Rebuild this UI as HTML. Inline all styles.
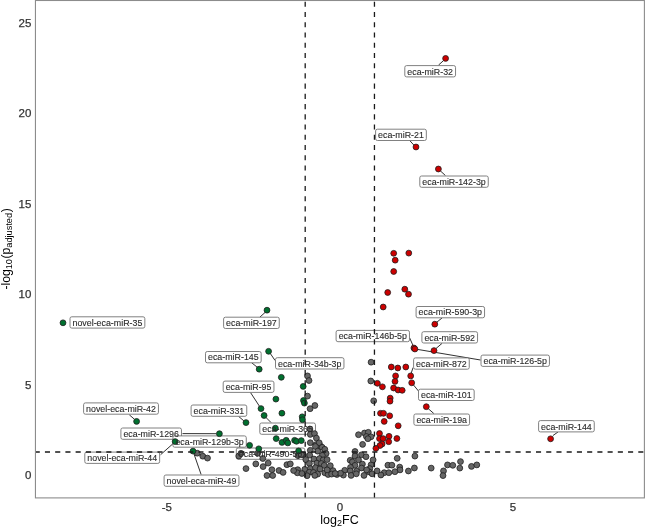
<!DOCTYPE html><html><head><meta charset="utf-8"><style>html,body{margin:0;padding:0;background:#fff;}svg{display:block;}text{font-family:"Liberation Sans",sans-serif;}svg{will-change:transform;}</style></head><body>
<svg width="645" height="527" viewBox="0 0 645 527">
<rect x="0" y="0" width="645" height="527" fill="#fff"/>
<g stroke="#1a1a1a" stroke-width="0.9" fill="none">
<line x1="438.5" y1="65.1" x2="443.4" y2="60.7"/>
<line x1="409.5" y1="140.3" x2="413.8" y2="145.0"/>
<line x1="445.4" y1="175.5" x2="440.5" y2="171.0"/>
<line x1="259.8" y1="317.2" x2="265.0" y2="312.5"/>
<line x1="442.0" y1="318.0" x2="436.8" y2="322.2"/>
<line x1="409.7" y1="338.0" x2="413.0" y2="345.5"/>
<line x1="442.0" y1="343.4" x2="436.0" y2="348.5"/>
<line x1="417.5" y1="349.4" x2="480.5" y2="360.0"/>
<line x1="413.1" y1="367.5" x2="411.2" y2="373.2"/>
<line x1="251.5" y1="362.6" x2="257.3" y2="367.3"/>
<line x1="275.1" y1="360.5" x2="270.3" y2="353.5"/>
<line x1="250.4" y1="392.4" x2="259.3" y2="406.0"/>
<line x1="418.8" y1="391.4" x2="413.5" y2="385.0"/>
<line x1="433.8" y1="413.5" x2="428.3" y2="408.7"/>
<line x1="238.6" y1="416.4" x2="243.8" y2="420.8"/>
<line x1="129.3" y1="414.8" x2="134.6" y2="419.4"/>
<line x1="182.5" y1="433.6" x2="216.4" y2="433.7"/>
<line x1="160.6" y1="454.7" x2="173.2" y2="443.5"/>
<line x1="271.0" y1="422.5" x2="266.0" y2="417.5"/>
<line x1="201.1" y1="474.5" x2="194.0" y2="454.0"/>
<line x1="558.1" y1="431.9" x2="552.9" y2="435.6"/>
</g>
<rect x="404.80" y="65.60" width="50.74" height="11.30" rx="1.8" fill="#fff" stroke="#737373" stroke-width="0.9"/>
<rect x="375.60" y="129.20" width="50.74" height="11.30" rx="1.8" fill="#fff" stroke="#737373" stroke-width="0.9"/>
<rect x="419.80" y="176.00" width="68.45" height="11.30" rx="1.8" fill="#fff" stroke="#737373" stroke-width="0.9"/>
<rect x="70.00" y="316.80" width="74.84" height="11.30" rx="1.8" fill="#fff" stroke="#737373" stroke-width="0.9"/>
<rect x="223.60" y="317.20" width="55.66" height="11.30" rx="1.8" fill="#fff" stroke="#737373" stroke-width="0.9"/>
<rect x="416.10" y="306.50" width="68.45" height="11.30" rx="1.8" fill="#fff" stroke="#737373" stroke-width="0.9"/>
<rect x="336.10" y="330.40" width="73.37" height="11.30" rx="1.8" fill="#fff" stroke="#737373" stroke-width="0.9"/>
<rect x="421.90" y="331.70" width="55.66" height="11.30" rx="1.8" fill="#fff" stroke="#737373" stroke-width="0.9"/>
<rect x="481.00" y="355.10" width="68.45" height="11.30" rx="1.8" fill="#fff" stroke="#737373" stroke-width="0.9"/>
<rect x="413.60" y="357.90" width="55.66" height="11.30" rx="1.8" fill="#fff" stroke="#737373" stroke-width="0.9"/>
<rect x="205.50" y="351.50" width="55.66" height="11.30" rx="1.8" fill="#fff" stroke="#737373" stroke-width="0.9"/>
<rect x="275.50" y="357.70" width="68.45" height="11.30" rx="1.8" fill="#fff" stroke="#737373" stroke-width="0.9"/>
<rect x="223.20" y="381.10" width="50.74" height="11.30" rx="1.8" fill="#fff" stroke="#737373" stroke-width="0.9"/>
<rect x="418.50" y="389.20" width="55.66" height="11.30" rx="1.8" fill="#fff" stroke="#737373" stroke-width="0.9"/>
<rect x="413.90" y="414.00" width="55.66" height="11.30" rx="1.8" fill="#fff" stroke="#737373" stroke-width="0.9"/>
<rect x="191.10" y="405.00" width="55.66" height="11.30" rx="1.8" fill="#fff" stroke="#737373" stroke-width="0.9"/>
<rect x="83.60" y="402.90" width="74.84" height="11.30" rx="1.8" fill="#fff" stroke="#737373" stroke-width="0.9"/>
<rect x="120.90" y="428.00" width="60.58" height="11.30" rx="1.8" fill="#fff" stroke="#737373" stroke-width="0.9"/>
<rect x="172.90" y="435.90" width="73.37" height="11.30" rx="1.8" fill="#fff" stroke="#737373" stroke-width="0.9"/>
<rect x="84.80" y="452.10" width="74.84" height="11.30" rx="1.8" fill="#fff" stroke="#737373" stroke-width="0.9"/>
<rect x="259.80" y="423.00" width="55.66" height="11.30" rx="1.8" fill="#fff" stroke="#737373" stroke-width="0.9"/>
<rect x="236.30" y="448.00" width="68.45" height="11.30" rx="1.8" fill="#fff" stroke="#737373" stroke-width="0.9"/>
<rect x="164.10" y="475.00" width="74.84" height="11.30" rx="1.8" fill="#fff" stroke="#737373" stroke-width="0.9"/>
<rect x="538.60" y="420.60" width="55.66" height="11.30" rx="1.8" fill="#fff" stroke="#737373" stroke-width="0.9"/>
<g fill="#666666" stroke="#1e1e1e" stroke-width="0.8">
<circle cx="431.2" cy="468.1" r="2.92"/>
<circle cx="443.5" cy="470.9" r="2.92"/>
<circle cx="443.0" cy="475.6" r="2.92"/>
<circle cx="447.5" cy="464.9" r="2.92"/>
<circle cx="452.8" cy="465.3" r="2.92"/>
<circle cx="460.5" cy="461.6" r="2.92"/>
<circle cx="459.8" cy="468.1" r="2.92"/>
<circle cx="471.5" cy="466.4" r="2.92"/>
<circle cx="476.8" cy="464.9" r="2.92"/>
<circle cx="397.2" cy="458.3" r="2.92"/>
<circle cx="414.9" cy="456.1" r="2.92"/>
<circle cx="387.9" cy="465.2" r="2.92"/>
<circle cx="391.9" cy="465.2" r="2.92"/>
<circle cx="399.7" cy="467.1" r="2.92"/>
<circle cx="400.0" cy="469.9" r="2.92"/>
<circle cx="384.2" cy="472.7" r="2.92"/>
<circle cx="388.8" cy="472.7" r="2.92"/>
<circle cx="394.9" cy="471.7" r="2.92"/>
<circle cx="380.9" cy="475.0" r="2.92"/>
<circle cx="408.4" cy="471.0" r="2.92"/>
<circle cx="414.4" cy="468.0" r="2.92"/>
<circle cx="358.5" cy="434.7" r="2.92"/>
<circle cx="364.5" cy="433.0" r="2.92"/>
<circle cx="368.3" cy="432.3" r="2.92"/>
<circle cx="366.4" cy="436.5" r="2.92"/>
<circle cx="371.0" cy="436.8" r="2.92"/>
<circle cx="367.9" cy="438.7" r="2.92"/>
<circle cx="362.6" cy="444.4" r="2.92"/>
<circle cx="373.7" cy="400.8" r="2.92"/>
<circle cx="371.1" cy="362.2" r="2.92"/>
<circle cx="370.8" cy="381.0" r="2.92"/>
<circle cx="377.1" cy="470.9" r="2.92"/>
<circle cx="309.9" cy="429.0" r="2.92"/>
<circle cx="310.3" cy="434.4" r="2.92"/>
<circle cx="314.5" cy="433.6" r="2.92"/>
<circle cx="316.4" cy="438.1" r="2.92"/>
<circle cx="310.3" cy="442.7" r="2.92"/>
<circle cx="316.0" cy="444.6" r="2.92"/>
<circle cx="320.6" cy="446.1" r="2.92"/>
<circle cx="319.2" cy="442.8" r="2.92"/>
<circle cx="297.9" cy="455.6" r="2.92"/>
<circle cx="315.4" cy="446.5" r="2.92"/>
<circle cx="322.2" cy="447.3" r="2.92"/>
<circle cx="286.9" cy="464.7" r="2.92"/>
<circle cx="297.7" cy="469.7" r="2.92"/>
<circle cx="297.3" cy="472.8" r="2.92"/>
<circle cx="262.8" cy="458.5" r="2.92"/>
<circle cx="255.8" cy="463.9" r="2.92"/>
<circle cx="268.2" cy="463.1" r="2.92"/>
<circle cx="263.1" cy="466.6" r="2.92"/>
<circle cx="271.9" cy="469.7" r="2.92"/>
<circle cx="267.0" cy="475.5" r="2.92"/>
<circle cx="272.7" cy="475.5" r="2.92"/>
<circle cx="279.0" cy="470.5" r="2.92"/>
<circle cx="283.1" cy="472.4" r="2.92"/>
<circle cx="290.3" cy="463.9" r="2.92"/>
<circle cx="293.6" cy="470.5" r="2.92"/>
<circle cx="257.6" cy="453.3" r="2.92"/>
<circle cx="238.8" cy="456.0" r="2.92"/>
<circle cx="241.0" cy="453.3" r="2.92"/>
<circle cx="246.0" cy="468.6" r="2.92"/>
<circle cx="197.3" cy="453.2" r="2.92"/>
<circle cx="202.8" cy="456.2" r="2.92"/>
<circle cx="207.5" cy="458.1" r="2.92"/>
<circle cx="307.5" cy="375.9" r="2.92"/>
<circle cx="309.0" cy="380.5" r="2.92"/>
<circle cx="307.5" cy="396.1" r="2.92"/>
<circle cx="310.1" cy="408.7" r="2.92"/>
<circle cx="314.9" cy="405.5" r="2.92"/>
<circle cx="355.0" cy="451.5" r="2.92"/>
<circle cx="355.0" cy="456.1" r="2.92"/>
<circle cx="361.5" cy="454.8" r="2.92"/>
<circle cx="366.0" cy="456.7" r="2.92"/>
<circle cx="350.2" cy="460.3" r="2.92"/>
<circle cx="352.4" cy="461.9" r="2.92"/>
<circle cx="358.5" cy="459.9" r="2.92"/>
<circle cx="355.0" cy="465.4" r="2.92"/>
<circle cx="362.4" cy="464.1" r="2.92"/>
<circle cx="361.5" cy="468.0" r="2.92"/>
<circle cx="350.5" cy="467.4" r="2.92"/>
<circle cx="344.7" cy="470.3" r="2.92"/>
<circle cx="350.2" cy="470.9" r="2.92"/>
<circle cx="356.6" cy="471.2" r="2.92"/>
<circle cx="343.4" cy="475.1" r="2.92"/>
<circle cx="351.1" cy="475.4" r="2.92"/>
<circle cx="356.3" cy="473.8" r="2.92"/>
<circle cx="364.0" cy="475.4" r="2.92"/>
<circle cx="336.9" cy="474.5" r="2.92"/>
<circle cx="340.5" cy="473.2" r="2.92"/>
<circle cx="333.0" cy="470.6" r="2.92"/>
<circle cx="371.1" cy="464.8" r="2.92"/>
<circle cx="373.1" cy="459.9" r="2.92"/>
<circle cx="369.8" cy="468.6" r="2.92"/>
<circle cx="369.2" cy="471.9" r="2.92"/>
<circle cx="372.1" cy="473.8" r="2.92"/>
<circle cx="366.6" cy="469.9" r="2.92"/>
<circle cx="310.3" cy="450.3" r="2.92"/>
<circle cx="317.7" cy="451.2" r="2.92"/>
<circle cx="324.8" cy="449.3" r="2.92"/>
<circle cx="303.5" cy="455.1" r="2.92"/>
<circle cx="309.7" cy="455.1" r="2.92"/>
<circle cx="326.1" cy="453.5" r="2.92"/>
<circle cx="322.3" cy="455.4" r="2.92"/>
<circle cx="305.8" cy="459.6" r="2.92"/>
<circle cx="313.9" cy="459.0" r="2.92"/>
<circle cx="319.4" cy="458.6" r="2.92"/>
<circle cx="323.2" cy="459.9" r="2.92"/>
<circle cx="327.1" cy="459.6" r="2.92"/>
<circle cx="309.4" cy="463.5" r="2.92"/>
<circle cx="316.8" cy="463.2" r="2.92"/>
<circle cx="321.3" cy="463.5" r="2.92"/>
<circle cx="324.2" cy="465.4" r="2.92"/>
<circle cx="330.3" cy="465.7" r="2.92"/>
<circle cx="304.8" cy="469.3" r="2.92"/>
<circle cx="310.3" cy="468.6" r="2.92"/>
<circle cx="315.5" cy="467.7" r="2.92"/>
<circle cx="320.0" cy="469.0" r="2.92"/>
<circle cx="301.9" cy="473.5" r="2.92"/>
<circle cx="309.4" cy="472.2" r="2.92"/>
<circle cx="313.5" cy="472.5" r="2.92"/>
<circle cx="317.7" cy="474.1" r="2.92"/>
<circle cx="324.8" cy="472.8" r="2.92"/>
<circle cx="307.1" cy="475.7" r="2.92"/>
<circle cx="314.8" cy="475.4" r="2.92"/>
<circle cx="328.1" cy="474.5" r="2.92"/>
<circle cx="331.6" cy="474.1" r="2.92"/>
<circle cx="335.2" cy="473.5" r="2.92"/>
<circle cx="327.1" cy="469.9" r="2.92"/>
<circle cx="301.3" cy="454.5" r="2.92"/>
</g>
<g fill="#00702f" stroke="#1e1e1e" stroke-width="0.8">
<circle cx="63.0" cy="322.8" r="2.92"/>
<circle cx="267.0" cy="310.2" r="2.92"/>
<circle cx="268.6" cy="351.3" r="2.92"/>
<circle cx="259.2" cy="369.2" r="2.92"/>
<circle cx="281.3" cy="377.3" r="2.92"/>
<circle cx="275.9" cy="399.1" r="2.92"/>
<circle cx="261.0" cy="408.6" r="2.92"/>
<circle cx="281.9" cy="413.2" r="2.92"/>
<circle cx="264.1" cy="415.5" r="2.92"/>
<circle cx="246.0" cy="422.6" r="2.92"/>
<circle cx="136.6" cy="421.4" r="2.92"/>
<circle cx="219.4" cy="433.7" r="2.92"/>
<circle cx="175.2" cy="441.6" r="2.92"/>
<circle cx="249.6" cy="445.3" r="2.92"/>
<circle cx="258.8" cy="448.8" r="2.92"/>
<circle cx="193.0" cy="451.1" r="2.92"/>
<circle cx="275.4" cy="428.2" r="2.92"/>
<circle cx="276.2" cy="438.6" r="2.92"/>
<circle cx="282.0" cy="442.4" r="2.92"/>
<circle cx="286.2" cy="440.3" r="2.92"/>
<circle cx="287.8" cy="442.9" r="2.92"/>
<circle cx="294.6" cy="440.3" r="2.92"/>
<circle cx="296.5" cy="441.3" r="2.92"/>
<circle cx="301.3" cy="440.6" r="2.92"/>
<circle cx="298.6" cy="450.9" r="2.92"/>
<circle cx="303.2" cy="386.4" r="2.92"/>
<circle cx="303.5" cy="400.5" r="2.92"/>
<circle cx="304.4" cy="403.1" r="2.92"/>
<circle cx="302.2" cy="416.8" r="2.92"/>
<circle cx="302.5" cy="419.7" r="2.92"/>
</g>
<g fill="#cd0000" stroke="#1e1e1e" stroke-width="0.8">
<circle cx="445.6" cy="58.4" r="2.92"/>
<circle cx="416.0" cy="147.0" r="2.92"/>
<circle cx="438.4" cy="169.0" r="2.92"/>
<circle cx="393.7" cy="253.3" r="2.92"/>
<circle cx="408.8" cy="253.1" r="2.92"/>
<circle cx="395.2" cy="260.2" r="2.92"/>
<circle cx="393.7" cy="271.5" r="2.92"/>
<circle cx="404.8" cy="289.2" r="2.92"/>
<circle cx="387.7" cy="292.5" r="2.92"/>
<circle cx="408.5" cy="294.2" r="2.92"/>
<circle cx="383.2" cy="307.0" r="2.92"/>
<circle cx="434.8" cy="324.2" r="2.92"/>
<circle cx="413.9" cy="348.0" r="2.92"/>
<circle cx="414.9" cy="349.0" r="2.92"/>
<circle cx="434.0" cy="350.6" r="2.92"/>
<circle cx="391.3" cy="367.0" r="2.92"/>
<circle cx="397.8" cy="368.0" r="2.92"/>
<circle cx="405.8" cy="367.0" r="2.92"/>
<circle cx="395.6" cy="375.9" r="2.92"/>
<circle cx="395.0" cy="381.4" r="2.92"/>
<circle cx="410.7" cy="375.9" r="2.92"/>
<circle cx="411.7" cy="382.8" r="2.92"/>
<circle cx="377.4" cy="383.3" r="2.92"/>
<circle cx="382.4" cy="386.8" r="2.92"/>
<circle cx="393.6" cy="388.0" r="2.92"/>
<circle cx="398.1" cy="390.0" r="2.92"/>
<circle cx="402.2" cy="390.3" r="2.92"/>
<circle cx="390.2" cy="398.1" r="2.92"/>
<circle cx="390.0" cy="401.2" r="2.92"/>
<circle cx="380.5" cy="413.3" r="2.92"/>
<circle cx="383.5" cy="413.3" r="2.92"/>
<circle cx="389.7" cy="415.8" r="2.92"/>
<circle cx="384.2" cy="421.4" r="2.92"/>
<circle cx="398.2" cy="425.8" r="2.92"/>
<circle cx="426.3" cy="406.7" r="2.92"/>
<circle cx="379.5" cy="433.5" r="2.92"/>
<circle cx="379.5" cy="438.6" r="2.92"/>
<circle cx="383.1" cy="438.6" r="2.92"/>
<circle cx="389.0" cy="436.3" r="2.92"/>
<circle cx="388.7" cy="441.7" r="2.92"/>
<circle cx="396.9" cy="438.5" r="2.92"/>
<circle cx="382.1" cy="444.0" r="2.92"/>
<circle cx="380.0" cy="445.5" r="2.92"/>
<circle cx="375.9" cy="448.3" r="2.92"/>
<circle cx="550.6" cy="438.8" r="2.92"/>
</g>
<g stroke="#1a1a1a" stroke-width="1.3" fill="none" stroke-dasharray="5.1 5.13">
<line x1="305.2" y1="497.9" x2="305.2" y2="0.5"/>
<line x1="374.45" y1="497.9" x2="374.45" y2="0.5"/>
<line x1="35.0" y1="452.0" x2="644.4" y2="452.0" stroke-dashoffset="0.3"/>
</g>
<g font-size="8.85" text-anchor="middle" fill="#2b2b2b" stroke="#2b2b2b" stroke-width="0.12">
<text x="430.17" y="74.50">eca-miR-32</text>
<text x="400.97" y="138.10">eca-miR-21</text>
<text x="454.02" y="184.90">eca-miR-142-3p</text>
<text x="107.42" y="325.70">novel-eca-miR-35</text>
<text x="251.43" y="326.10">eca-miR-197</text>
<text x="450.32" y="315.40">eca-miR-590-3p</text>
<text x="372.79" y="339.30">eca-miR-146b-5p</text>
<text x="449.73" y="340.60">eca-miR-592</text>
<text x="515.22" y="364.00">eca-miR-126-5p</text>
<text x="441.43" y="366.80">eca-miR-872</text>
<text x="233.33" y="360.40">eca-miR-145</text>
<text x="309.72" y="366.60">eca-miR-34b-3p</text>
<text x="248.57" y="390.00">eca-miR-95</text>
<text x="446.33" y="398.10">eca-miR-101</text>
<text x="441.73" y="422.90">eca-miR-19a</text>
<text x="218.93" y="413.90">eca-miR-331</text>
<text x="121.02" y="411.80">novel-eca-miR-42</text>
<text x="151.19" y="436.90">eca-miR-1296</text>
<text x="209.59" y="444.80">eca-miR-129b-3p</text>
<text x="122.22" y="461.00">novel-eca-miR-44</text>
<text x="287.63" y="431.90">eca-miR-365</text>
<text x="270.52" y="456.90">eca-miR-490-5p</text>
<text x="201.52" y="483.90">novel-eca-miR-49</text>
<text x="566.43" y="429.50">eca-miR-144</text>
</g>
<rect x="35.45" y="0.5" width="608.95" height="497.40" fill="none" stroke="#8c8c8c" stroke-width="1.1"/>
<text x="31.4" y="479.25" font-size="11.5" text-anchor="end" fill="#333" stroke="#333" stroke-width="0.25">0</text>
<text x="31.4" y="388.78" font-size="11.5" text-anchor="end" fill="#333" stroke="#333" stroke-width="0.25">5</text>
<text x="31.4" y="298.30" font-size="11.5" text-anchor="end" fill="#333" stroke="#333" stroke-width="0.25">10</text>
<text x="31.4" y="207.83" font-size="11.5" text-anchor="end" fill="#333" stroke="#333" stroke-width="0.25">15</text>
<text x="31.4" y="117.35" font-size="11.5" text-anchor="end" fill="#333" stroke="#333" stroke-width="0.25">20</text>
<text x="31.4" y="26.88" font-size="11.5" text-anchor="end" fill="#333" stroke="#333" stroke-width="0.25">25</text>
<text x="166.9" y="511.4" font-size="11.5" text-anchor="middle" fill="#333" stroke="#333" stroke-width="0.25">-5</text>
<text x="339.85" y="511.4" font-size="11.5" text-anchor="middle" fill="#333" stroke="#333" stroke-width="0.25">0</text>
<text x="512.85" y="511.4" font-size="11.5" text-anchor="middle" fill="#333" stroke="#333" stroke-width="0.25">5</text>
<text x="320.3" y="523.5" font-size="12.5" fill="#000">log<tspan font-size="9" dy="2.6">2</tspan><tspan dy="-2.6">FC</tspan></text>
<text transform="translate(9.5,289.6) rotate(-90)" x="0" y="0" font-size="12.2" fill="#000">-log<tspan font-size="9.2" dy="2.6">10</tspan><tspan dy="-2.6" dx="0.5">(p</tspan><tspan font-size="9.2" dy="2.6">adjusted</tspan><tspan dy="-2.6" dx="0.6">)</tspan></text>
</svg></body></html>
